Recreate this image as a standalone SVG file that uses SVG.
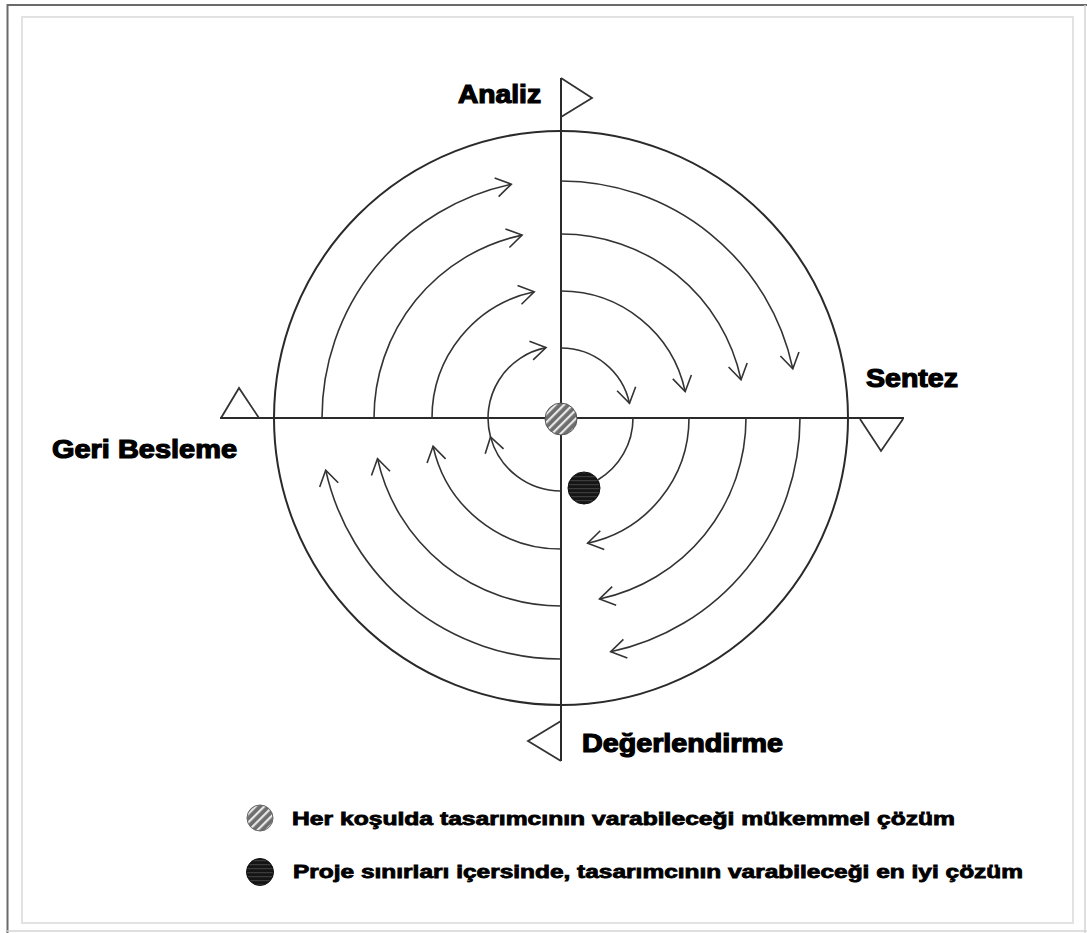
<svg xmlns="http://www.w3.org/2000/svg" width="1087" height="933" viewBox="0 0 1087 933">
<style>
.arc{fill:none;stroke:#333;stroke-width:1.6;marker-end:url(#chev)}
.arcn{fill:none;stroke:#333;stroke-width:1.6}
.axis{stroke:#2a2a2a;stroke-width:2;fill:none}
.flag{fill:none;stroke:#333;stroke-width:1.8;stroke-linejoin:miter}
.lbl{font-family:"Liberation Sans",Arial,sans-serif;font-weight:bold;font-size:25px;fill:#000;stroke:#000;stroke-width:1.2}
.leg{font-family:"Liberation Sans",Arial,sans-serif;font-weight:bold;font-size:18px;fill:#000;stroke:#000;stroke-width:0.8}
</style>
<defs>
<marker id="chev" markerUnits="userSpaceOnUse" markerWidth="1" markerHeight="1" refX="0" refY="0" orient="auto" overflow="visible">
<path d="M-15,-9.5 L0,0 L-15,9.5" fill="none" stroke="#333" stroke-width="1.6"/>
</marker>
<pattern id="hatch" patternUnits="userSpaceOnUse" width="6" height="6" patternTransform="rotate(-45)">
<rect width="6" height="6" fill="#6e6e6e"/>
<rect y="0" width="6" height="2.2" fill="#e8e8e8"/>
</pattern>
<pattern id="dark" patternUnits="userSpaceOnUse" width="4" height="4">
<rect width="4" height="4" fill="#151515"/>
<rect y="0" width="4" height="1.2" fill="#3c3c3c"/>
</pattern>
</defs>
<rect width="1087" height="933" fill="#fff"/>
<g id="frame">
<line x1="7" y1="5" x2="1087" y2="5" stroke="#6a6a6a" stroke-width="2"/>
<line x1="7.5" y1="4" x2="7.5" y2="933" stroke="#6a6a6a" stroke-width="2"/>
<line x1="1085" y1="5" x2="1085" y2="933" stroke="#d4d4d4" stroke-width="1.5"/>
<line x1="7" y1="931" x2="1087" y2="931" stroke="#d4d4d4" stroke-width="1.5"/>
<rect x="22" y="17" width="1051" height="906" fill="none" stroke="#e2e2e2" stroke-width="2"/>
</g>
<g id="outer-circle">
<circle cx="561" cy="418" r="287" fill="none" stroke="#2a2a2a" stroke-width="2"/>
</g>
<g id="axes">
<line class="axis" x1="561" y1="78" x2="561" y2="761"/>
<line class="axis" x1="220" y1="418" x2="904" y2="418"/>
</g>
<g id="flags">
<polyline class="flag" points="561,78 592,98 561,117"/>
<polyline class="flag" points="221,418 239,388 259,418"/>
<polyline class="flag" points="860,419 881,451 903,419"/>
<polyline class="flag" points="561,721 528,741 561,761"/>
</g>
<g id="connectors">
<path class="arc" d="M322,418 A239,239 0 0 1 511.3,184.2"/>
<path class="arc" d="M374,418 A187,187 0 0 1 522.1,235.1"/>
<path class="arc" d="M432,418 A129,129 0 0 1 534.2,291.8"/>
<path class="arc" d="M561,181 A237,237 0 0 1 792.8,368.7"/>
<path class="arc" d="M561,234 A184,184 0 0 1 741,379.7"/>
<path class="arc" d="M561,291 A127,127 0 0 1 685.2,391.6"/>
<path class="arc" d="M561,348 A70,70 0 0 1 629.5,403.4"/>
<path class="arc" d="M800,418 A239,239 0 0 1 610.7,651.8"/>
<path class="arc" d="M746,418 A185,185 0 0 1 599.5,599"/>
<path class="arc" d="M689,418 A128,128 0 0 1 587.6,543.2"/>
<path class="arcn" d="M633,418 A72,72 0 0 1 598.1,479.7"/>
<path class="arc" d="M561,659 A241,241 0 0 1 325.7,470.2"/>
<path class="arc" d="M561,606 A188,188 0 0 1 377.5,458.7"/>
<path class="arc" d="M561,549 A131,131 0 0 1 433.1,446.3"/>
<path class="arc" d="M561,491 A73,73 0 0 1 490.5,436.9"/>
<path class="arc" d="M490.5,436.9 A72,72 0 0 1 546,347.6"/>
</g>
<g id="center-point">
<circle cx="561" cy="419" r="16" fill="url(#hatch)" stroke="#555" stroke-width="1"/>
</g>
<g id="best-point">
<circle cx="584" cy="488" r="16" fill="url(#dark)" stroke="#111" stroke-width="1"/>
</g>
<g id="label-analiz"><text class="lbl" x="458" y="103" textLength="83" lengthAdjust="spacingAndGlyphs">Analiz</text></g>
<g id="label-sentez"><text class="lbl" x="866" y="387" textLength="92" lengthAdjust="spacingAndGlyphs">Sentez</text></g>
<g id="label-geri-besleme"><text class="lbl" x="52" y="458" textLength="185" lengthAdjust="spacingAndGlyphs">Geri Besleme</text></g>
<g id="label-degerlendirme"><text class="lbl" x="582" y="752" textLength="201" lengthAdjust="spacingAndGlyphs">Değerlendirme</text></g>
<g id="legend-1">
<circle cx="260" cy="818" r="13" fill="url(#hatch)" stroke="#666" stroke-width="1"/>
<text class="leg" x="292" y="825" textLength="663" lengthAdjust="spacingAndGlyphs">Her koşulda tasarımcının varabileceği mükemmel çözüm</text>
</g>
<g id="legend-2">
<circle cx="260" cy="872" r="13.5" fill="url(#dark)" stroke="#111" stroke-width="1"/>
<text class="leg" x="293" y="878" textLength="730" lengthAdjust="spacingAndGlyphs">Proje sınırları içersinde, tasarımcının varabileceği en iyi çözüm</text>
</g>
</svg>
